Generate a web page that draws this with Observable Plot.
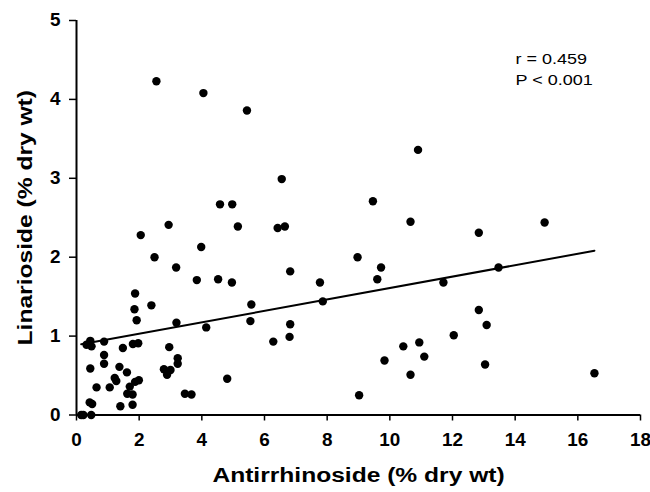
<!DOCTYPE html>
<html>
<head>
<meta charset="utf-8">
<script src="https://cdn.jsdelivr.net/npm/d3@7"></script>
<script src="https://cdn.jsdelivr.net/npm/@observablehq/plot@0.6"></script>
<style>
  html, body { margin: 0; padding: 0; background: #fff; }
</style>
</head>
<body>
<div id="chart"></div>
<script>
// Antirrhinoside (% dry wt) for each sample
const antirrhinoside = [
  2.55, 4.05, 5.44, 10.9, 6.55, 4.58, 4.97, 9.46, 5.15, 6.42,
  6.65, 10.66, 3.98, 8.97, 12.84, 14.94, 9.72, 9.60, 11.71, 13.47,
  12.84, 2.94, 2.05, 2.49, 3.18, 3.84, 4.52, 4.96, 1.87, 1.85,
  2.39, 1.92, 3.19, 4.14, 5.58, 5.55, 0.44, 0.32, 0.48, 0.88,
  1.48, 1.80, 1.97, 2.96, 0.88, 0.88, 0.44, 1.37, 1.61, 3.23,
  3.23, 2.79, 2.89, 3.00, 1.22, 1.27, 0.64, 1.06, 1.70, 1.87,
  1.99, 1.62, 1.79, 1.40, 1.79, 0.42, 0.50, 0.15, 0.22, 0.47,
  3.46, 3.67, 4.81, 6.82, 7.77, 7.86, 6.82, 6.80, 6.28, 9.83,
  10.43, 10.94, 11.10, 10.66, 9.02, 13.09, 12.04, 13.04, 16.53
];
// Linarioside (% dry wt) for each sample
const linarioside = [
  4.23, 4.08, 3.86, 3.36, 2.99, 2.67, 2.67, 2.71, 2.39, 2.37,
  2.39, 2.45, 2.13, 2.00, 2.31, 2.44, 1.87, 1.72, 1.68, 1.87,
  1.33, 2.41, 2.28, 2.00, 1.87, 1.71, 1.72, 1.68, 1.54, 1.34,
  1.39, 1.20, 1.17, 1.11, 1.40, 1.19, 0.94, 0.89, 0.87, 0.93,
  0.85, 0.90, 0.91, 0.86, 0.76, 0.65, 0.59, 0.61, 0.54, 0.72,
  0.65, 0.58, 0.51, 0.57, 0.47, 0.43, 0.35, 0.35, 0.36, 0.42,
  0.44, 0.27, 0.26, 0.11, 0.13, 0.16, 0.14, 0.00, 0.00, 0.00,
  0.27, 0.26, 0.46, 1.82, 1.68, 1.44, 1.15, 0.99, 0.93, 0.69,
  0.87, 0.92, 0.74, 0.51, 0.25, 1.14, 1.01, 0.64, 0.53
];
const xTicks = [0, 2, 4, 6, 8, 10, 12, 14, 16, 18];
const yTicks = [0, 1, 2, 3, 4, 5];
const xLabel = "Antirrhinoside (% dry wt)";
const yLabel = "Linarioside (% dry wt)";
const statsLines = ["r = 0.459", "P < 0.001"];

const data = antirrhinoside.map((x, i) => ({x, y: linarioside[i]}));

const chart = Plot.plot({
  width: 650,
  height: 492,
  marginLeft: 76,
  marginRight: 10,
  marginTop: 20,
  marginBottom: 77.5,
  x: {domain: [0, 18], label: null},
  y: {domain: [0, 5], label: null},
  style: {
    fontFamily: "'Liberation Sans', Arial, Helvetica, sans-serif",
    fontWeight: "bold",
    background: "#fff",
    color: "#000",
    overflow: "visible"
  },
  marks: [
    Plot.axisX({ticks: xTicks, tickFormat: d => String(d), tickSize: 6, tickPadding: 12.5, fontSize: 18, stroke: "#000", strokeWidth: 1.5, label: null, ariaLabel: "x-axis"}),
    Plot.axisY({ticks: yTicks, tickFormat: d => String(d), tickSize: 7, tickPadding: 9, fontSize: 18, stroke: "#000", strokeWidth: 1.5, label: null}),
    Plot.ruleY([0], {stroke: "#000", strokeWidth: 2}),
    Plot.ruleX([0], {stroke: "#000", strokeWidth: 2}),
    Plot.linearRegressionY(data, {x: "x", y: "y", ci: 0, stroke: "#000", strokeWidth: 2}),
    Plot.dot(data, {x: "x", y: "y", r: 4.2, fill: "#000", stroke: "none"}),
    Plot.text([statsLines.join("\n")], {frameAnchor: "top-left", dx: 439, dy: 27.7, textAnchor: "start", lineAnchor: "top", lineHeight: 1.45, fontSize: 15, fontWeight: "normal", fill: "#000"}),
    Plot.text([xLabel], {frameAnchor: "bottom", dy: 66.5, textAnchor: "middle", lineAnchor: "bottom", fontSize: 20.5, fill: "#000"}),
    Plot.text([yLabel], {frameAnchor: "left", dx: -45, rotate: -90, textAnchor: "middle", lineAnchor: "bottom", fontSize: 20.5, fill: "#000"})
  ]
});

// The reference's typeface is wider than Liberation Sans for the same height
chart.querySelectorAll("text").forEach(t => {
  const size = parseFloat(t.closest("[font-size]")?.getAttribute("font-size")) || 0;
  const k = size === 18 ? 1.05 : 1.2;
  const tr = t.getAttribute("transform") || "";
  t.setAttribute("transform", (tr + " scale(" + k + ",1)").trim());
});

document.getElementById("chart").appendChild(chart);
</script>
</body>
</html>
